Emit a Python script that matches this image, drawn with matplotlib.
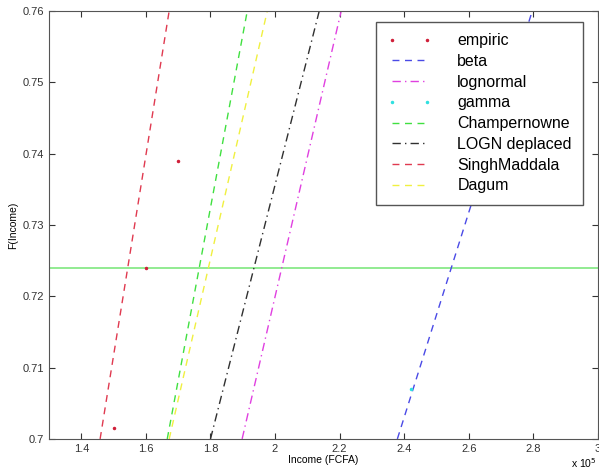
import matplotlib.pyplot as plt

plt.rcParams['font.family'] = ['Liberation Sans', 'DejaVu Sans']

# fitted CDF curves: income (x 1e5) at F = 0.70 and F = 0.76
F_ends = [0.70, 0.76]
beta_x = [2.379, 2.797]
lognormal_x = [1.898, 2.205]
champernowne_x = [1.666, 1.914]
logn_depl_x = [1.800, 2.137]
singh_x = [1.458, 1.672]
dagum_x = [1.672, 1.976]

# observed points
empiric_x = [1.50, 1.60, 1.70]
empiric_y = [0.7015, 0.724, 0.739]
gamma_x = [2.42]
gamma_y = [0.707]

level = 0.724

fig = plt.figure(figsize=(5.99, 4.74), dpi=100)
ax = fig.add_axes([0.082, 0.074, 0.916, 0.903])

ax.axhline(level, color='#7fe87f', linewidth=1.2)
ax.plot(empiric_x, empiric_y, linestyle='none', marker='.', markersize=3,
        color='#d0203a', label='empiric')
ax.plot(beta_x, F_ends, '--', color='#4a4ae6', linewidth=1, dashes=(5, 4), label='beta')
ax.plot(lognormal_x, F_ends, '-.', color='#e040e0', linewidth=1, dashes=(6, 3, 1, 3), label='lognormal')
ax.plot(gamma_x, gamma_y, linestyle='none', marker='.', markersize=3,
        color='#30e0e0', label='gamma')
ax.plot(champernowne_x, F_ends, '--', color='#40e040', linewidth=1, dashes=(5, 4), label='Champernowne')
ax.plot(logn_depl_x, F_ends, '-.', color='#303030', linewidth=1, dashes=(6, 3, 1, 3), label='LOGN deplaced')
ax.plot(singh_x, F_ends, '--', color='#e03a50', linewidth=1, dashes=(5, 4), label='SinghMaddala')
ax.plot(dagum_x, F_ends, '--', color='#f0f040', linewidth=1, dashes=(5, 4), label='Dagum')

ax.set_xlim(1.3, 3.0)
ax.set_ylim(0.70, 0.76)
ax.set_xticks([1.4, 1.6, 1.8, 2.0, 2.2, 2.4, 2.6, 2.8, 3.0])
ax.set_xticklabels(['1.4', '1.6', '1.8', '2', '2.2', '2.4', '2.6', '2.8', '3'])
ax.set_yticks([0.70, 0.71, 0.72, 0.73, 0.74, 0.75, 0.76])
ax.set_yticklabels(['0.7', '0.71', '0.72', '0.73', '0.74', '0.75', '0.76'])
ax.tick_params(direction='in', top=True, right=True, labelsize=8, colors='#333333', length=4)
for s in ax.spines.values():
    s.set_color('#555555')

ax.set_xlabel('Income (FCFA)', fontsize=7.5, labelpad=1)
ax.set_ylabel('F(Income)', fontsize=7.5, labelpad=3)
fig.text(0.953, 0.012, r'x 10$^5$', fontsize=7.5)

leg = ax.legend(loc='upper right', bbox_to_anchor=(0.973, 0.974), borderaxespad=0,
                fontsize=11.5, numpoints=2, handlelength=2.8, handletextpad=1.6,
                labelspacing=0.36, borderpad=0.7, fancybox=False,
                framealpha=1, edgecolor='#555555')
leg.get_frame().set_linewidth(1)

fig.savefig('out.png', dpi=100)
